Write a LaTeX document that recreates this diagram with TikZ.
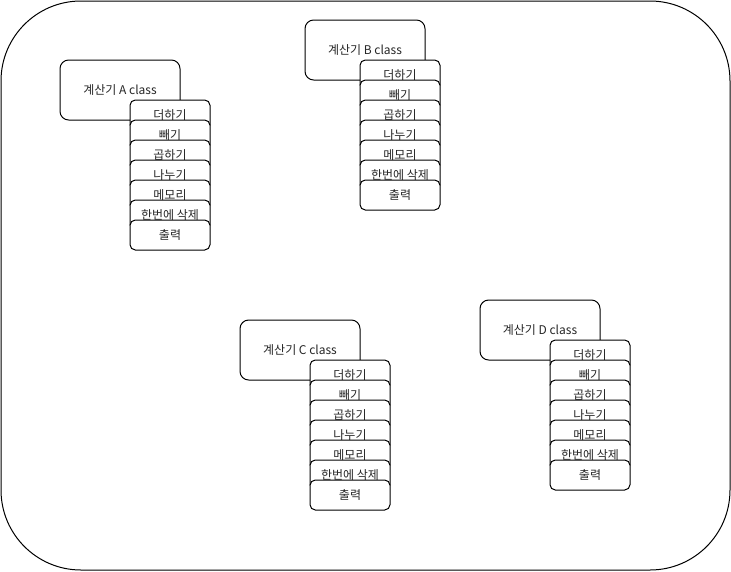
\documentclass[tikz,border=0pt]{standalone}
\usepackage{fontspec}
\setmainfont{Noto Sans CJK KR}
\usetikzlibrary{positioning}

\begin{document}
\begin{tikzpicture}[
  x=0.75pt, y=-0.75pt,
  font=\fontsize{9pt}{10pt}\selectfont,
  cls/.style={rectangle, draw, rounded corners=6.5pt, line width=0.75pt, minimum width=90pt, minimum height=45pt, inner sep=1pt, outer sep=0pt, fill=white, text=black!85},
  item/.style={rectangle, draw, rounded corners=4pt, line width=0.75pt, minimum width=60pt, minimum height=22.5pt, inner sep=1pt, outer sep=0pt, fill=white, text=black!85},
  node distance=-7.5pt
]
  \useasboundingbox (0,0) rectangle (731,571);
  \draw[line width=0.75pt, rounded corners=60pt] (1,1) rectangle (730,570);

  % one class box with its stacked methods
  \foreach \g/\cx/\cy/\dx in {A/60/60/70, B/305/20/55, C/240/320/70, D/480/300/70} {
    \node[cls, anchor=north west] (cls\g) at (\cx,\cy) {계산기 \g\ class};
    \node[item, anchor=north west] (add\g) at (\cx+\dx,\cy+40) {더하기};
    \node[item, below=of add\g] (sub\g) {빼기};
    \node[item, below=of sub\g] (mul\g) {곱하기};
    \node[item, below=of mul\g] (div\g) {나누기};
    \node[item, below=of div\g] (mem\g) {메모리};
    \node[item, below=of mem\g] (clr\g) {한번에 삭제};
    \node[item, below=of clr\g] (out\g) {출력};
  }
\end{tikzpicture}
\end{document}
